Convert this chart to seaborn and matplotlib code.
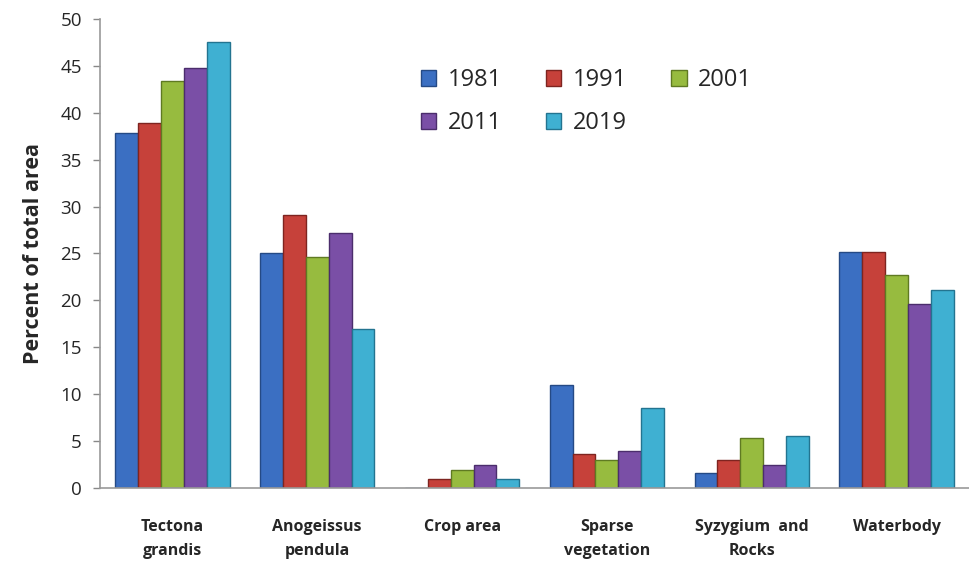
import numpy as np
import pandas as pd
import matplotlib
matplotlib.use("Agg")
import matplotlib.pyplot as plt
import seaborn as sns

# Land cover share per class and survey year
categories = ["Tectona\ngrandis", "Anogeissus\npendula", "Crop area",
              "Sparse\nvegetation", "Syzygium  and\nRocks", "Waterbody"]
years = ["1981", "1991", "2001", "2011", "2019"]
v1981 = [37.8, 25.0, 0.0, 11.0, 1.6, 25.2]
v1991 = [38.9, 29.1, 1.0, 3.6, 3.0, 25.2]
v2001 = [43.4, 24.6, 1.9, 3.0, 5.3, 22.7]
v2011 = [44.8, 27.2, 2.4, 3.9, 2.4, 19.6]
v2019 = [47.5, 17.0, 1.0, 8.5, 5.5, 21.1]
yticks = [0, 5, 10, 15, 20, 25, 30, 35, 40, 45, 50]

series = [v1981, v1991, v2001, v2011, v2019]
df = pd.DataFrame({
    "category": np.repeat([categories], len(years), axis=0).ravel(),
    "year": np.repeat(years, len(categories)),
    "value": np.concatenate(series),
})

colors = ["#3b6fc2", "#c6413a", "#97bb3f", "#7a4fa6", "#3fb0d2"]
edges = ["#254a85", "#7e2420", "#5f7a22", "#4b2d6c", "#237490"]

sns.set_style("white")
plt.rcParams["font.family"] = ["Open Sans", "DejaVu Sans"]

fig = plt.figure(figsize=(9.69, 5.61), dpi=100)
ax = fig.add_axes([100 / 969, 1 - 488 / 561, 1 - 100 / 969, (488 - 19) / 561])

sns.barplot(data=df, x="category", y="value", hue="year", order=categories,
            hue_order=years, palette=colors, width=0.79, gap=0,
            saturation=1, ax=ax, legend=False)

# darker outline per series
for cont, ec in zip(ax.containers, edges):
    for bar in cont:
        bar.set_edgecolor(ec)
        bar.set_linewidth(1.0)

ax.set_xlim(-0.5, 5.45)
ax.set_ylim(0, 50)
ax.set_yticks(yticks)
ax.set_yticklabels([str(t) for t in yticks], fontsize=13.5)
ax.tick_params(axis="y", length=5, color="#888888", width=1, pad=8, left=True)
ax.set_xticks(range(len(categories)))
ax.set_xticklabels(categories, fontsize=11.5, fontweight="bold",
                   linespacing=1.7)
ax.tick_params(axis="x", length=0, pad=22)
ax.set_xticks(np.arange(-0.5, 5.6, 1), minor=True)
ax.tick_params(axis="x", which="minor", length=5, color="#888888", width=1)
ax.set_xlabel("")
ax.set_ylabel("Percent of total area", fontsize=15.5, fontweight="bold",
              labelpad=12)

for side in ["top", "right"]:
    ax.spines[side].set_visible(False)
for side in ["left", "bottom"]:
    ax.spines[side].set_color("#999999")
    ax.spines[side].set_linewidth(1.2)

# legend laid out row by row
handles = [plt.Rectangle((0, 0), 1, 1, facecolor=c, edgecolor=e)
           for c, e in zip(colors, edges)]
order = [0, 3, 1, 4, 2]
ax.legend([handles[i] for i in order], [years[i] for i in order], ncol=3,
          loc="upper left", bbox_to_anchor=(0.345, 0.94), frameon=False,
          fontsize=17, handlelength=0.65, handleheight=0.65,
          columnspacing=1.85, handletextpad=0.5, labelspacing=0.8)

fig.savefig("out.png", dpi=100)
